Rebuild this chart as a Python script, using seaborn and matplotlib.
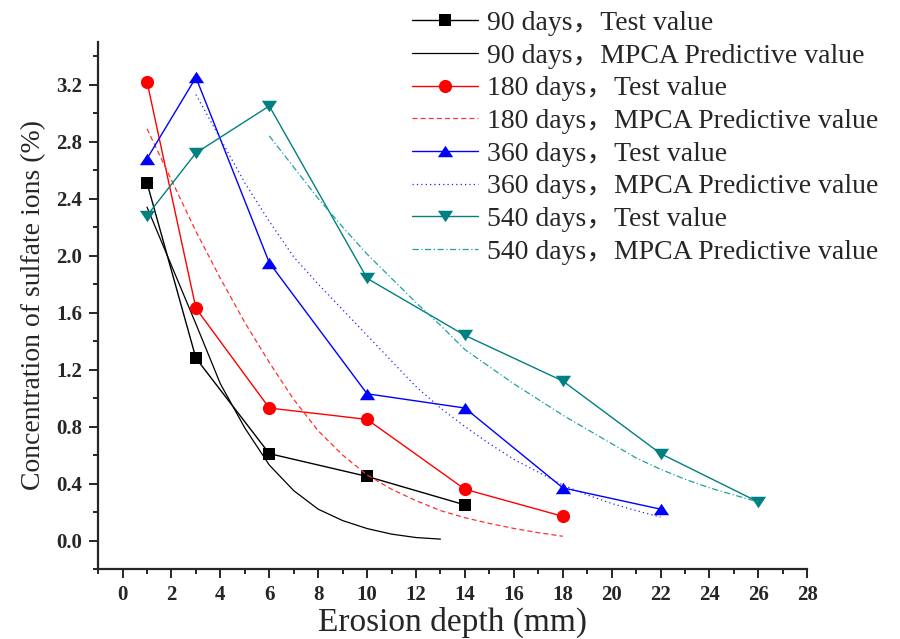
import matplotlib
matplotlib.use("Agg")
import matplotlib.pyplot as plt
from matplotlib.ticker import MultipleLocator, FormatStrFormatter
import seaborn as sns

# test values (erosion depth in mm -> sulfate ion concentration in %)
depth_90 = [1, 3, 6, 10, 14]
test_90 = [2.51, 1.28, 0.61, 0.45, 0.25]
depth_180 = [1, 3, 6, 10, 14, 18]
test_180 = [3.22, 1.63, 0.93, 0.85, 0.36, 0.17]
depth_360 = [1, 3, 6, 10, 14, 18, 22]
test_360 = [2.68, 3.25, 1.95, 1.03, 0.93, 0.37, 0.22]
depth_540 = [1, 3, 6, 10, 14, 18, 22, 26]
test_540 = [2.28, 2.72, 3.05, 1.84, 1.44, 1.12, 0.61, 0.27]

# MPCA predictive curves at 1 mm steps
pred_depth_90 = list(range(1, 14))
pred_90 = [2.34, 1.93, 1.52, 1.10, 0.79, 0.53, 0.35, 0.22, 0.14, 0.084, 0.045, 0.021, 0.01]
pred_depth_180 = list(range(1, 19))
pred_180 = [2.89, 2.53, 2.17, 1.84, 1.53, 1.25, 0.99, 0.77, 0.60, 0.46, 0.36, 0.28, 0.21,
            0.16, 0.12, 0.085, 0.055, 0.03]
pred_depth_360 = list(range(3, 23))
pred_360 = [3.13, 2.82, 2.51, 2.24, 1.99, 1.80, 1.62, 1.44, 1.26, 1.08, 0.93, 0.80, 0.68,
            0.57, 0.48, 0.39, 0.32, 0.26, 0.21, 0.165]
pred_depth_540 = list(range(6, 27))
pred_540 = [2.84, 2.62, 2.40, 2.20, 2.01, 1.84, 1.67, 1.51, 1.34, 1.22, 1.10, 0.99, 0.88,
            0.78, 0.68, 0.58, 0.50, 0.43, 0.37, 0.32, 0.27]

ages = ["90", "180", "360", "540"]
colors = ["#000000", "#FF0000", "#0000FF", "#008080"]
pred_colors = ["#000000", "#FF3030", "#2020FF", "#20A0A0"]
tri_up = [(0, 0.75), (-1, -0.75), (1, -0.75)]
tri_down = [(0, -0.75), (-1, 0.75), (1, 0.75)]
markers = ["s", "o", tri_up, tri_down]
marker_sizes = [8, 9.5, 11, 11]
pred_styles = ["-", (0, (4, 2.5)), (0, (1, 2.5)), (0, (5, 2, 1, 2))]

tests = [(depth_90, test_90), (depth_180, test_180), (depth_360, test_360), (depth_540, test_540)]
preds = [(pred_depth_90, pred_90), (pred_depth_180, pred_180),
         (pred_depth_360, pred_360), (pred_depth_540, pred_540)]

sns.set_style("ticks")
plt.rcParams["font.family"] = ["Liberation Serif", "Noto Sans CJK SC"]

fig = plt.figure(figsize=(9, 6.39), dpi=100)
ax = fig.add_axes([0.109, 0.1095, 0.788, 0.825])

for i, age in enumerate(ages):
    x, y = tests[i]
    sns.lineplot(x=x, y=y, ax=ax, color=colors[i], marker=markers[i],
                 markersize=marker_sizes[i], markeredgewidth=0, linewidth=1.0,
                 errorbar=None, sort=False, label=f"{age} days，Test value")
    px, py = preds[i]
    sns.lineplot(x=px, y=py, ax=ax, color=pred_colors[i], linestyle=pred_styles[i],
                 linewidth=0.9, errorbar=None, sort=False,
                 label=f"{age} days，MPCA Predictive value")

ax.set_xlim(-1, 28)
ax.set_ylim(-0.2, 3.5)
ax.xaxis.set_major_locator(MultipleLocator(2))
ax.xaxis.set_minor_locator(MultipleLocator(1))
ax.yaxis.set_minor_locator(MultipleLocator(0.2))
ax.yaxis.set_major_formatter(FormatStrFormatter("%.1f"))
ax.set_yticks([0.0, 0.4, 0.8, 1.2, 1.6, 2.0, 2.4, 2.8, 3.2])

sns.despine(ax=ax)
for side in ["left", "bottom"]:
    ax.spines[side].set_linewidth(1.6)
ax.tick_params(which="major", direction="out", length=6.5, width=1.4, pad=5,
               labelsize=15)
ax.tick_params(which="minor", direction="out", length=3.5, width=1.4)
for lab in ax.get_xticklabels() + ax.get_yticklabels():
    lab.set_fontweight("bold")

ax.set_xlabel("Erosion depth (mm)", fontsize=24, labelpad=1)
ax.set_ylabel("Concentration of sulfate ions (%)", fontsize=20, labelpad=7)

ax.legend(loc="upper left", bbox_to_anchor=(0.452, 0.992), bbox_transform=fig.transFigure,
          frameon=False, fontsize=20, handlelength=2.35, handletextpad=0.35,
          labelspacing=0.26, borderpad=0.2, borderaxespad=0)

fig.savefig("out.png", dpi=100)
